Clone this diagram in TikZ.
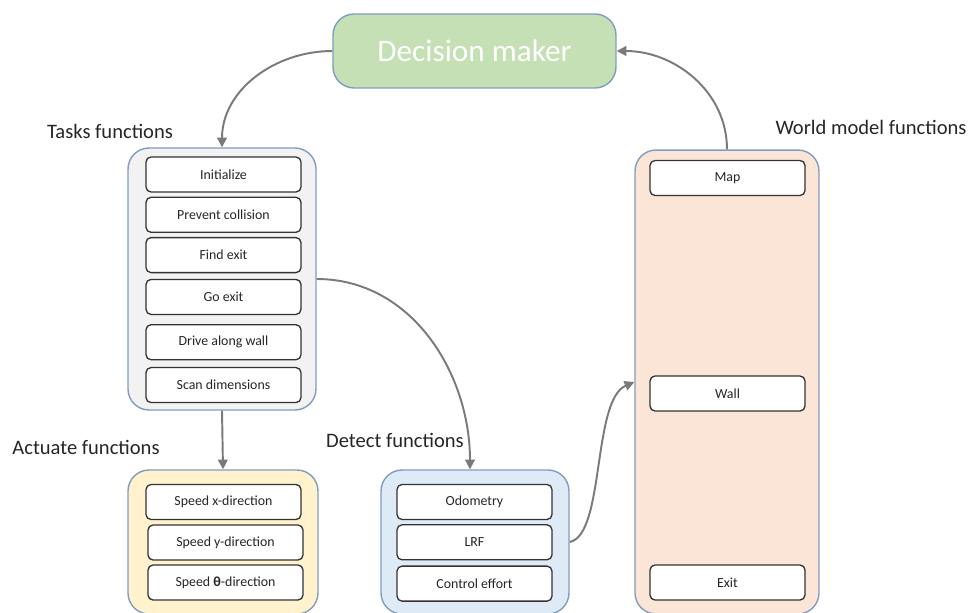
\documentclass[tikz,border=0pt]{standalone}
\usepackage{fontspec}
\setmainfont{Carlito}
\usepackage{tikz}
\usetikzlibrary{positioning, arrows.meta}
\definecolor{dmgreen}{HTML}{C5E0B4}
\definecolor{taskgray}{HTML}{F2F2F2}
\definecolor{actyellow}{HTML}{FFF2CC}
\definecolor{detblue}{HTML}{DEEBF7}
\definecolor{worldpeach}{HTML}{FBE5D6}
\definecolor{edgeblue}{HTML}{7F9DC0}
\definecolor{flowgray}{HTML}{7A7A7A}
\definecolor{txtgray}{HTML}{262626}

\begin{document}
\begin{tikzpicture}[x=0.02cm, y=-0.02cm, >={Triangle[length=5.5pt,width=5.5pt]},
    container/.style={draw=edgeblue, line width=0.8pt, rounded corners=0.42cm, inner sep=0pt},
    fnbox/.style={draw=black!80, fill=white, line width=0.75pt, rounded corners=0.1cm,
        minimum width=3.1cm, minimum height=0.7cm, inner sep=0pt, text=txtgray,
        font=\fontsize{7.9}{9}\selectfont},
    lbl/.style={text=txtgray, font=\fontsize{11.7}{14}\selectfont},
    flow/.style={->, draw=flowgray, line width=1.1pt}]
    \useasboundingbox (0,0) rectangle (970,612);

    % Decision maker
    \node[container, fill=dmgreen, minimum width=5.66cm, minimum height=1.48cm,
        text=white, font=\fontsize{17.8}{21}\selectfont] (dm) at (474.5,51) {Decision maker};

    % Containers
    \node[container, fill=taskgray, minimum width=3.76cm, minimum height=5.24cm] (tasks) at (222,279) {};
    \node[container, fill=actyellow, minimum width=3.8cm, minimum height=2.88cm] (actuate) at (223,542) {};
    \node[container, fill=detblue, minimum width=3.76cm, minimum height=2.88cm] (detect) at (475,542) {};
    \node[container, fill=worldpeach, minimum width=3.68cm, minimum height=9.28cm] (world) at (727,382) {};

    % Tasks functions
    \node[fnbox] (init) at (223.5,174.5) {Initialize};
    \node[fnbox, below=0.08cm of init] (prevent) {Prevent collision};
    \node[fnbox, below=0.08cm of prevent] (findexit) {Find exit};
    \node[fnbox, below=0.11cm of findexit] (goexit) {Go exit};
    \node[fnbox, below=0.18cm of goexit] (drive) {Drive along wall};
    \node[fnbox, below=0.13cm of drive] (scan) {Scan dimensions};

    % Actuate functions
    \node[fnbox] (speedx) at (223.5,502) {Speed x-direction};
    \node[fnbox] (speedy) at (225.5,542.5) {Speed y-direction};
    \node[fnbox] (speedt) at (225.5,582.5) {Speed \textbf{θ}-direction};

    % Detect functions
    \node[fnbox] (odom) at (474.5,502) {Odometry};
    \node[fnbox, below=0.08cm of odom] (lrf) {LRF};
    \node[fnbox, below=0.1cm of lrf] (effort) {Control effort};

    % World model functions
    \node[fnbox] (map) at (727.5,178) {Map};
    \node[fnbox] (wall) at (727.5,393.5) {Wall};
    \node[fnbox] (exit) at (727.5,582.5) {Exit};

    % Labels
    \node[lbl] (tasklbl) at (110,131) {Tasks functions};
    \node[lbl] (actlbl) at (86,447) {Actuate functions};
    \node[lbl] (detlbl) at (395,440) {Detect functions};
    \node[lbl] (worldlbl) at (871,127) {World model functions};

    % Connectors
    \draw[flow] (dm.west) to[out=180, in=90] (tasks.north);
    \draw[flow] (tasks.south) -- (actuate.north);
    \draw[flow] (tasks.east) to[out=0, in=90] ([xshift=-0.1cm]detect.north);
    \draw[flow] (detect.east) .. controls (605,535) and (592,400) .. (world.west);
    \draw[flow] (world.north) to[out=90, in=0] (dm.east);
\end{tikzpicture}
\end{document}
